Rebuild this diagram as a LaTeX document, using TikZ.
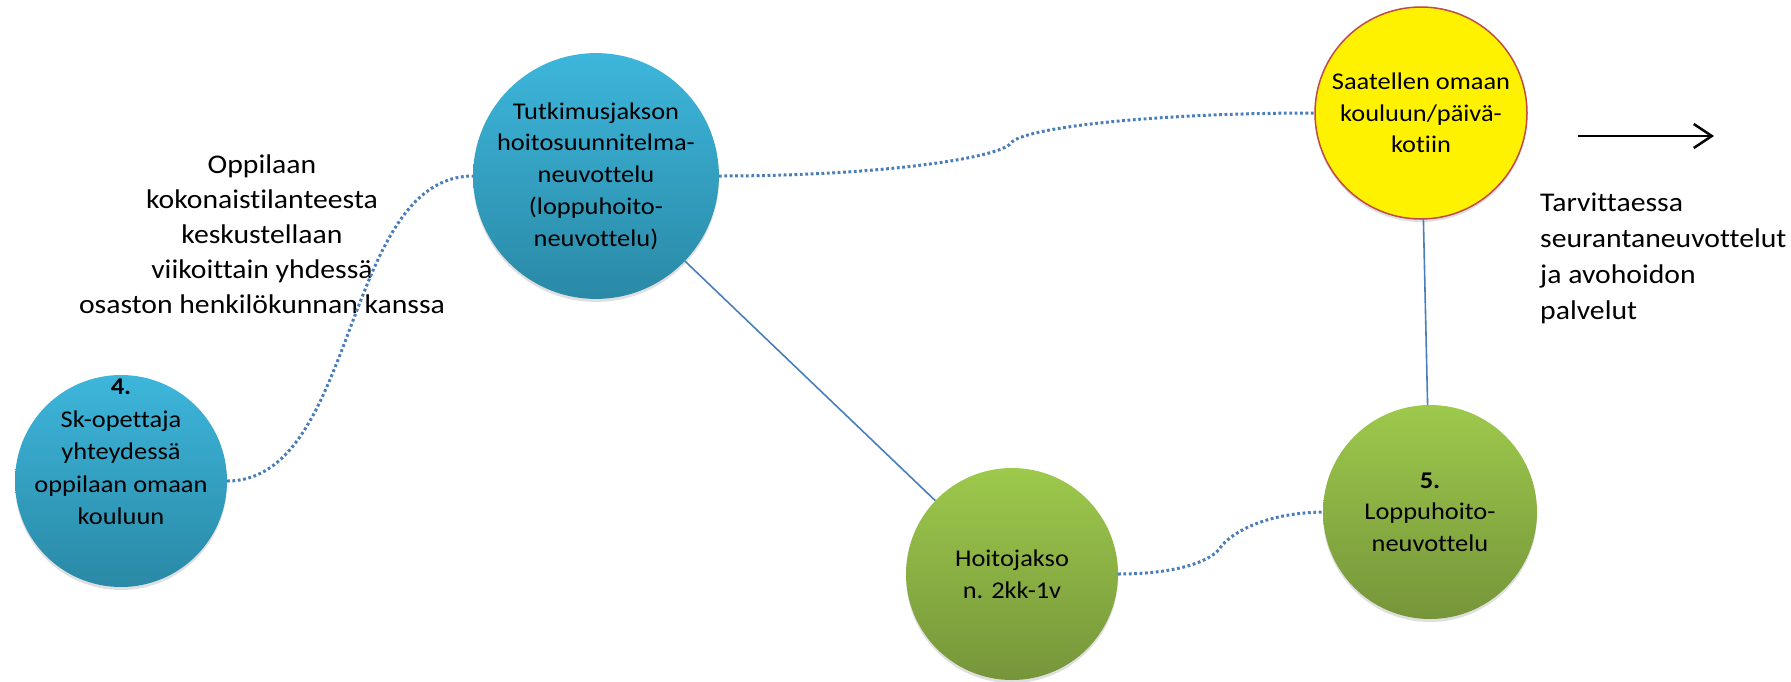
\documentclass[tikz,border=0pt]{standalone}
\usepackage{fontspec}
\setmainfont{Carlito}[FakeStretch=1.1,Ligatures=NoCommon]
\usepackage{tikz}
\usetikzlibrary{arrows.meta,shadows}
\definecolor{bluetop}{HTML}{3DB6DB}
\definecolor{bluebot}{HTML}{2A89A6}
\definecolor{greentop}{HTML}{9DC94C}
\definecolor{greenbot}{HTML}{76953A}
\definecolor{linkblue}{HTML}{4A7EBB}
\definecolor{ringred}{HTML}{BE4B48}

\begin{document}
\begin{tikzpicture}[x=1pt,y=-1pt,
	ball/.style={circle,inner sep=0pt,outer sep=0pt,align=center,font=\fontsize{24}{31.7}\selectfont,
		drop shadow={opacity=0.25,shadow xshift=0pt,shadow yshift=-3pt}},
	blueball/.style={ball,top color=bluetop,bottom color=bluebot},
	greenball/.style={ball,top color=greentop,bottom color=greenbot},
	yellowball/.style={ball,fill=yellow,draw=ringred,line width=1.5pt},
	note/.style={inner sep=0pt,align=center,font=\fontsize{27}{35}\selectfont},
	dotlink/.style={draw=linkblue,line width=3pt,dash pattern=on 2.8pt off 2.6pt},
	link/.style={draw=linkblue,line width=1.6pt}]
	\useasboundingbox (0,0) rectangle (1791,681);

	\node[blueball,minimum size=212pt] (c4) at (121,481) {};
	\node[note,font=\fontsize{24}{32.5}\selectfont] (c4txt) at (121,452) {\textbf{4.}\\Sk-opettaja\\yhteydessä\\oppilaan omaan\\kouluun};
	\node[blueball,minimum size=230pt] (tut) at (596,176) {Tutkimusjakson\\hoitosuunnitelma-\\neuvottelu\\(loppuhoito-\\neuvottelu)};
	\node[yellowball,minimum size=212pt] (koti) at (1421,113) {Saatellen omaan\\kouluun/päivä-\\kotiin};
	\node[greenball,minimum size=212pt] (hoito) at (1012,574) {Hoitojakso\\n. 2kk-1v};
	\node[greenball,minimum size=214pt] (loppu) at (1430,512) {\textbf{5.}\\Loppuhoito-\\neuvottelu};

	\node[note] (oppilas) at (262,234) {Oppilaan\\kokonaistilanteesta\\keskustellaan\\viikoittain yhdessä\\osaston henkilökunnan kanssa};
	\node[note,align=left,anchor=west,font=\fontsize{27}{36}\selectfont] (seuranta) at (1540,258) {Tarvittaessa\\seurantaneuvottelut\\ja avohoidon\\palvelut};

	\coordinate (nuoli1) at (1578,136);
	\coordinate (nuoli2) at (1714,136);

	\draw[dotlink] (c4.east) .. controls (358,481) and (342,176) .. (tut.west);
	\draw[dotlink] (tut.east) .. controls (880,176) and (1000,158) .. (1011,143)
		.. controls (1022,128) and (1150,113) .. (koti.west);
	\draw[dotlink] (hoito.east) .. controls (1180,574) and (1212,560) .. (1220,548)
		.. controls (1228,536) and (1260,513) .. (loppu.west);
	\draw[link] (tut) -- (hoito);
	\draw[link] (koti) -- (loppu);
	\draw[line width=2.5pt,-{Straight Barb[length=18pt,width=24pt]}] (nuoli1) -- (nuoli2);
\end{tikzpicture}
\end{document}
